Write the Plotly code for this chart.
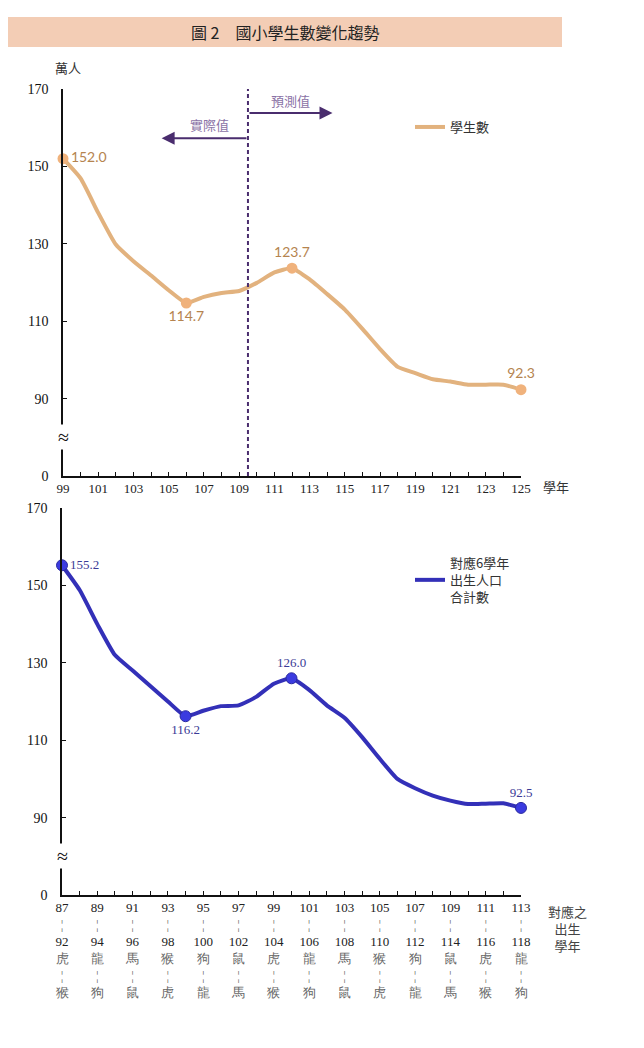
import plotly.graph_objects as go

# ---------------- data ----------------
years_top = list(range(99, 126))
students = [152.0, 146.9, 138.0, 129.8, 125.5, 121.8, 118.0, 114.7, 116.3, 117.3,
            117.8, 119.9, 122.6, 123.7, 120.8, 117.0, 113.0, 108.0, 102.8, 98.2,
            96.6, 95.0, 94.4, 93.6, 93.6, 93.6, 92.3]
top_label_idx = [0, 7, 13, 26]
top_label_pos = ["middle right", "bottom center", "top center", "top center"]

years_bottom = list(range(87, 114))
births = [155.2, 148.8, 140.0, 132.0, 128.0, 124.0, 120.0, 116.2, 117.6, 118.8,
          119.0, 121.2, 124.6, 126.0, 123.0, 119.0, 115.8, 110.8, 105.2, 100.0,
          97.6, 95.7, 94.4, 93.5, 93.6, 93.7, 92.5]
bot_label_idx = [0, 7, 13, 26]
bot_label_pos = ["middle right", "bottom center", "top center", "top center"]

birth_start = list(range(87, 114, 2))
birth_end = list(range(92, 119, 2))
zodiac_start = ["虎", "龍", "馬", "猴", "狗", "鼠", "虎", "龍", "馬", "猴", "狗", "鼠", "虎", "龍"]
zodiac_end = ["猴", "狗", "鼠", "虎", "龍", "馬", "猴", "狗", "鼠", "虎", "龍", "馬", "猴", "狗"]

y_ticks = [70, 90, 110, 130, 150, 170]
y_ticktext = ["0", "90", "110", "130", "150", "170"]

title_text = "圖 2　國小學生數變化趨勢"

# ---------------- styling ----------------
OFF = 8                      # page body margin
W, H = 644 - OFF, 1048 - OFF
SERIF = "Liberation Serif, Times New Roman, serif"
CJK = "Noto Sans CJK TC, Noto Sans, sans-serif"
TOP_LINE = "#e2b27e"
TOP_MARK = "#f0b27c"
TOP_TXT = "#b5844f"
BOT_LINE = "#3330b8"
BOT_MARK = "#3b3be0"
BOT_TXT = "#3a3a96"
PURPLE = "#4a2d6e"
PURPLE_TXT = "#8a72a6"

def px_x(p):
    return (p - OFF) / W

def px_y(p):
    return 1 - (p - OFF) / H

fig = go.Figure()

# top series
fig.add_trace(go.Scatter(
    x=years_top, y=students, mode="lines", name="學生數",
    line=dict(color=TOP_LINE, width=4, shape="spline", smoothing=0.5),
    xaxis="x", yaxis="y", legend="legend"))
fig.add_trace(go.Scatter(
    x=[years_top[i] for i in top_label_idx], y=[students[i] for i in top_label_idx],
    mode="markers+text", showlegend=False,
    text=[f"{students[i]:.1f}" for i in top_label_idx], textposition=top_label_pos,
    textfont=dict(family="Lato, Open Sans, sans-serif", size=14, color=TOP_TXT),
    marker=dict(color=TOP_MARK, size=11), cliponaxis=False,
    xaxis="x", yaxis="y"))

# bottom series
fig.add_trace(go.Scatter(
    x=years_bottom, y=births, mode="lines", name="對應6學年<br>出生人口<br>合計數",
    line=dict(color=BOT_LINE, width=4, shape="spline", smoothing=0.5),
    xaxis="x2", yaxis="y2", legend="legend2"))
fig.add_trace(go.Scatter(
    x=[years_bottom[i] for i in bot_label_idx], y=[births[i] for i in bot_label_idx],
    mode="markers+text", showlegend=False,
    text=[f"{births[i]:.1f}" for i in bot_label_idx], textposition=bot_label_pos,
    textfont=dict(family=SERIF, size=13, color=BOT_TXT),
    marker=dict(color=BOT_MARK, size=11, line=dict(color="#2a2aa0", width=1)),
    cliponaxis=False, xaxis="x2", yaxis="y2"))

top_ticktext = [str(y) if (y - 99) % 2 == 0 else "" for y in years_top]
grey = "#666666"
bot_ticktext = []
k = 0
for y in years_bottom:
    if (y - 87) % 2 == 0:
        bot_ticktext.append(
            f"{birth_start[k]}<br><span style='color:{grey}'>¦</span><br>{birth_end[k]}"
            f"<br><span style='color:{grey}'>{zodiac_start[k]}</span>"
            f"<br><span style='color:{grey}'>¦</span>"
            f"<br><span style='color:{grey}'>{zodiac_end[k]}</span>")
        k += 1
    else:
        bot_ticktext.append("")

axis_common = dict(showline=True, linecolor="#111", linewidth=1.5, showgrid=False,
                   zeroline=False, ticks="inside", ticklen=4, tickcolor="#111",
                   tickwidth=1.2, automargin=False)

fig.update_layout(
    width=W, height=H, margin=dict(l=0, r=0, t=0, b=0, pad=0),
    paper_bgcolor="white", plot_bgcolor="white",
    font=dict(family=SERIF, size=13, color="#111"),
    xaxis=dict(domain=[px_x(63), px_x(521)], range=[99, 125], anchor="y",
               tickvals=years_top, ticktext=top_ticktext,
               tickfont=dict(family=SERIF, size=13, color="#222"), **axis_common),
    yaxis=dict(domain=[px_y(476), px_y(89)], range=[70, 170], anchor="x",
               tickvals=y_ticks, ticktext=y_ticktext, ticklabelstandoff=10,
               tickfont=dict(family=SERIF, size=14, color="#111"), **axis_common),
    xaxis2=dict(domain=[px_x(62), px_x(521)], range=[87, 113], anchor="y2",
                tickvals=years_bottom, ticktext=bot_ticktext,
                tickfont=dict(family=SERIF, size=13, color="#222"), **axis_common),
    yaxis2=dict(domain=[px_y(895), px_y(508)], range=[70, 170], anchor="x2",
                tickvals=y_ticks, ticktext=y_ticktext, ticklabelstandoff=10,
                tickfont=dict(family=SERIF, size=14, color="#111"), **axis_common),
    legend=dict(x=px_x(410), y=px_y(127), xanchor="left", yanchor="middle",
                bgcolor="rgba(0,0,0,0)", itemwidth=30,
                font=dict(family=CJK, size=13, color="#333")),
    legend2=dict(x=px_x(410), y=px_y(580), xanchor="left", yanchor="middle",
                 bgcolor="rgba(0,0,0,0)", itemwidth=30,
                 font=dict(family=CJK, size=13, color="#333")),
)

shapes = [
    dict(type="rect", xref="paper", yref="paper", x0=px_x(8), x1=px_x(562),
         y0=px_y(47), y1=px_y(17), fillcolor="#f3cdb5", line=dict(width=0), layer="below"),
    dict(type="line", xref="x", yref="y", x0=109.5, x1=109.5, y0=70, y1=170,
         line=dict(color=PURPLE, width=2, dash="4px,3px")),
]
fig.update_layout(shapes=shapes)

ann = [
    dict(text=title_text, xref="paper", yref="paper", x=px_x(285), y=px_y(32),
         xanchor="center", yanchor="middle",
         showarrow=False, font=dict(family=CJK, size=16, color="#222")),
    dict(text="萬人", xref="paper", yref="paper", x=px_x(68), y=px_y(67),
         xanchor="center", yanchor="middle",
         showarrow=False, font=dict(family=CJK, size=13, color="#333")),
    dict(text="學年", xref="paper", yref="paper", x=px_x(541), y=px_y(487),
         xanchor="left", yanchor="middle",
         showarrow=False, font=dict(family=CJK, size=13, color="#333")),
    dict(text="對應之<br>出生<br>學年", xref="paper", yref="paper", x=px_x(567), y=px_y(900),
         xanchor="center", yanchor="top", showarrow=False, align="center",
         font=dict(family=CJK, size=13, color="#444")),
    # axis break marks
    dict(text="≈", xref="x", yref="y", x=99, y=80, showarrow=False,
         xanchor="center", yanchor="middle",
         font=dict(family=SERIF, size=20, color="#111"), bgcolor="white"),
    dict(text="≈", xref="x2", yref="y2", x=87, y=80, showarrow=False,
         xanchor="center", yanchor="middle",
         font=dict(family=SERIF, size=20, color="#111"), bgcolor="white"),
    # forecast arrows
    dict(text="", xref="x", yref="y", axref="x", ayref="y", x=114.3, y=163.8,
         ax=109.5, ay=163.8, showarrow=True, arrowhead=2, arrowsize=1.3,
         arrowwidth=2, arrowcolor=PURPLE),
    dict(text="", xref="x", yref="y", axref="x", ayref="y", x=104.6, y=157.3,
         ax=109.5, ay=157.3, showarrow=True, arrowhead=2, arrowsize=1.3,
         arrowwidth=2, arrowcolor=PURPLE),
    dict(text="預測值", xref="x", yref="y", x=111.9, y=167.0, showarrow=False,
         xanchor="center", yanchor="middle",
         font=dict(family=CJK, size=13, color=PURPLE_TXT)),
    dict(text="實際值", xref="x", yref="y", x=107.3, y=160.8, showarrow=False,
         xanchor="center", yanchor="middle",
         font=dict(family=CJK, size=13, color=PURPLE_TXT)),
]
fig.update_layout(annotations=ann)

fig.write_html("out.html")
